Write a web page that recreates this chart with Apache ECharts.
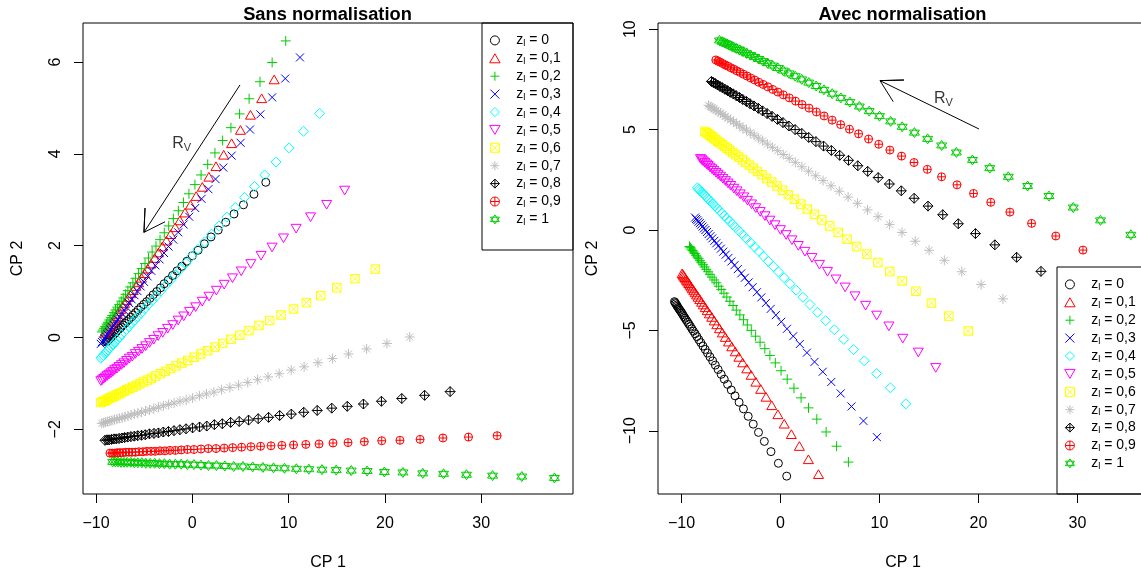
<!DOCTYPE html>
<html><head><meta charset="utf-8">
<script src="https://cdn.jsdelivr.net/npm/echarts@6/dist/echarts.min.js"></script>
<style>html,body{margin:0;padding:0;background:#fff}#c{width:1141px;height:576px}</style>
</head><body><div id="c"></div>
<script>
// ---------- categories ----------
const zLabels = ['0','0,1','0,2','0,3','0,4','0,5','0,6','0,7','0,8','0,9','1'];
const colors = ['#000000','#FF0000','#00CD00','#0000FF','#00FFFF','#FF00FF','#FFFF00','#BEBEBE','#000000','#FF0000','#00CD00'];

// ---------- tick labels ----------
const leftXTicks = [-10, 0, 10, 20, 30];
const leftYTicks = [-2, 0, 2, 4, 6];
const rightXTicks = [-10, 0, 10, 20, 30];
const rightYTicks = [-10, -5, 0, 5, 10];

// ---------- left panel (Sans normalisation) ----------
const L0x = [7.63,6.40,5.31,4.33,3.47,2.69,1.94,1.25,0.60,0.00,-0.56,-1.09,-1.59,-2.05,-2.50,-2.92,-3.31,-3.69,-4.06,-4.41,-4.74,-5.05,-5.35,-5.63,-5.90,-6.15,-6.38,-6.60,-6.81,-7.01,-7.37,-7.71,-8.00,-8.27,-8.52,-8.75,-8.95,-7.19,-7.54,-7.86,-8.14,-8.40,-8.64,-8.85];
const L0y = [3.38,3.12,2.89,2.69,2.51,2.34,2.19,2.04,1.90,1.78,1.66,1.55,1.45,1.35,1.25,1.17,1.08,1.00,0.93,0.85,0.78,0.72,0.66,0.60,0.54,0.49,0.44,0.39,0.35,0.31,0.23,0.16,0.10,0.04,-0.01,-0.06,-0.10,0.27,0.20,0.13,0.07,0.01,-0.03,-0.08];
const L1x = [8.50,7.20,6.04,5.00,4.08,3.26,2.46,1.72,1.04,0.40,-0.19,-0.76,-1.29,-1.78,-2.25,-2.69,-3.12,-3.52,-3.91,-4.28,-4.63,-4.96,-5.28,-5.58,-5.86,-6.13,-6.37,-6.60,-6.83,-7.04,-7.43,-7.78,-8.10,-8.38,-8.64,-8.89,-9.10,-7.23,-7.60,-7.94,-8.24,-8.52,-8.77,-8.99];
const L1y = [5.62,5.21,4.85,4.52,4.23,3.98,3.73,3.50,3.28,3.08,2.89,2.72,2.55,2.40,2.25,2.11,1.98,1.85,1.73,1.61,1.50,1.40,1.30,1.20,1.12,1.03,0.96,0.88,0.81,0.75,0.62,0.51,0.42,0.33,0.24,0.17,0.10,0.69,0.57,0.46,0.37,0.28,0.21,0.13];
const L2x = [9.70,8.29,7.03,5.90,4.91,4.01,3.15,2.35,1.60,0.91,0.27,-0.35,-0.92,-1.45,-1.97,-2.45,-2.91,-3.35,-3.77,-4.17,-4.55,-4.91,-5.26,-5.58,-5.89,-6.17,-6.44,-6.69,-6.94,-7.17,-7.59,-7.97,-8.31,-8.62,-8.90,-9.17,-9.40,-7.38,-7.78,-8.14,-8.46,-8.77,-9.04,-9.29];
const L2y = [6.46,5.99,5.57,5.20,4.87,4.57,4.29,4.02,3.77,3.54,3.33,3.13,2.94,2.76,2.59,2.43,2.28,2.13,1.99,1.86,1.73,1.61,1.50,1.39,1.29,1.19,1.10,1.02,0.94,0.86,0.72,0.60,0.48,0.38,0.29,0.20,0.12,0.79,0.66,0.54,0.43,0.33,0.24,0.16];
const L3x = [11.18,9.65,8.29,7.07,5.99,5.02,4.09,3.22,2.41,1.67,0.96,0.30,-0.32,-0.90,-1.46,-1.97,-2.47,-2.94,-3.40,-3.83,-4.25,-4.64,-5.01,-5.36,-5.70,-6.01,-6.30,-6.56,-6.83,-7.08,-7.54,-7.95,-8.32,-8.65,-8.96,-9.25,-9.50,-7.31,-7.74,-8.14,-8.49,-8.82,-9.11,-9.38];
const L3y = [6.10,5.64,5.23,4.86,4.53,4.24,3.96,3.70,3.45,3.23,3.02,2.82,2.63,2.46,2.29,2.13,1.98,1.84,1.70,1.57,1.45,1.33,1.21,1.11,1.01,0.92,0.83,0.75,0.66,0.59,0.45,0.33,0.22,0.12,0.02,-0.07,-0.14,0.52,0.39,0.27,0.17,0.07,-0.02,-0.10];
const L4x = [13.22,11.54,10.04,8.70,7.52,6.45,5.43,4.47,3.59,2.77,2.00,1.27,0.59,-0.05,-0.66,-1.23,-1.78,-2.30,-2.80,-3.28,-3.73,-4.16,-4.57,-4.96,-5.32,-5.66,-5.98,-6.27,-6.57,-6.84,-7.34,-7.80,-8.21,-8.57,-8.91,-9.23,-9.50,-7.09,-7.57,-8.00,-8.39,-8.75,-9.07,-9.36];
const L4y = [4.88,4.49,4.13,3.82,3.54,3.29,3.05,2.83,2.62,2.43,2.25,2.08,1.92,1.77,1.62,1.49,1.36,1.24,1.12,1.01,0.90,0.80,0.71,0.62,0.53,0.45,0.38,0.31,0.24,0.17,0.06,-0.05,-0.15,-0.23,-0.31,-0.39,-0.45,0.12,0.00,-0.10,-0.19,-0.27,-0.35,-0.42];
const L5x = [15.82,13.95,12.28,10.78,9.47,8.28,7.14,6.07,5.08,4.17,3.31,2.50,1.74,1.03,0.35,-0.28,-0.89,-1.47,-2.03,-2.56,-3.07,-3.55,-4.01,-4.44,-4.84,-5.22,-5.58,-5.91,-6.23,-6.54,-7.10,-7.60,-8.06,-8.46,-8.84,-9.20,-9.50,-6.82,-7.35,-7.83,-8.26,-8.66,-9.02,-9.35];
const L5y = [3.20,2.89,2.62,2.37,2.16,1.96,1.78,1.60,1.44,1.29,1.15,1.02,0.89,0.78,0.66,0.56,0.46,0.37,0.27,0.19,0.10,0.03,-0.05,-0.12,-0.19,-0.25,-0.31,-0.36,-0.42,-0.46,-0.56,-0.64,-0.71,-0.78,-0.84,-0.90,-0.95,-0.51,-0.60,-0.68,-0.75,-0.81,-0.87,-0.93];
const L6x = [19.00,16.89,15.01,13.33,11.85,10.51,9.22,8.03,6.92,5.89,4.92,4.01,3.15,2.36,1.59,0.87,0.19,-0.47,-1.09,-1.69,-2.26,-2.80,-3.32,-3.80,-4.26,-4.68,-5.08,-5.45,-5.82,-6.17,-6.79,-7.36,-7.88,-8.33,-8.76,-9.16,-9.50,-6.48,-7.08,-7.62,-8.10,-8.56,-8.96,-9.33];
const L6y = [1.49,1.28,1.08,0.91,0.76,0.62,0.49,0.37,0.26,0.15,0.05,-0.04,-0.13,-0.21,-0.29,-0.36,-0.43,-0.50,-0.56,-0.62,-0.68,-0.74,-0.79,-0.84,-0.89,-0.93,-0.97,-1.01,-1.05,-1.08,-1.14,-1.20,-1.25,-1.30,-1.34,-1.39,-1.42,-1.11,-1.17,-1.23,-1.28,-1.32,-1.37,-1.40];
const L7x = [22.58,20.21,18.10,16.22,14.55,13.05,11.61,10.27,9.02,7.87,6.78,5.76,4.80,3.90,3.04,2.24,1.47,0.74,0.03,-0.64,-1.28,-1.89,-2.46,-3.00,-3.52,-4.00,-4.44,-4.86,-5.28,-5.66,-6.36,-7.00,-7.58,-8.09,-8.57,-9.02,-9.40,-6.01,-6.68,-7.29,-7.83,-8.35,-8.79,-9.21];
const L7y = [0.01,-0.13,-0.25,-0.36,-0.46,-0.55,-0.64,-0.71,-0.79,-0.86,-0.92,-0.98,-1.04,-1.09,-1.14,-1.19,-1.23,-1.27,-1.32,-1.36,-1.39,-1.43,-1.46,-1.49,-1.52,-1.55,-1.58,-1.60,-1.63,-1.65,-1.69,-1.73,-1.76,-1.79,-1.82,-1.85,-1.87,-1.67,-1.71,-1.75,-1.78,-1.81,-1.83,-1.86];
const L8x = [26.77,24.12,21.75,19.64,17.77,16.09,14.48,12.97,11.57,10.28,9.07,7.92,6.84,5.84,4.87,3.98,3.12,2.29,1.50,0.75,0.03,-0.65,-1.29,-1.90,-2.48,-3.01,-3.52,-3.98,-4.45,-4.88,-5.67,-6.38,-7.03,-7.60,-8.14,-8.64,-9.07,-5.27,-6.02,-6.71,-7.31,-7.89,-8.39,-8.85];
const L8y = [-1.18,-1.26,-1.33,-1.39,-1.45,-1.50,-1.54,-1.59,-1.63,-1.67,-1.70,-1.74,-1.77,-1.80,-1.83,-1.85,-1.88,-1.90,-1.93,-1.95,-1.97,-1.99,-2.01,-2.03,-2.05,-2.06,-2.08,-2.09,-2.10,-2.12,-2.14,-2.16,-2.18,-2.20,-2.21,-2.23,-2.24,-2.13,-2.15,-2.17,-2.19,-2.21,-2.22,-2.23];
const L9x = [31.65,28.68,26.02,23.65,21.56,19.67,17.86,16.17,14.61,13.16,11.79,10.51,9.30,8.17,7.09,6.08,5.12,4.19,3.31,2.47,1.66,0.90,0.17,-0.51,-1.15,-1.76,-2.32,-2.84,-3.36,-3.85,-4.73,-5.54,-6.26,-6.90,-7.51,-8.07,-8.55,-4.29,-5.13,-5.90,-6.58,-7.22,-7.79,-8.31];
const L9y = [-2.14,-2.17,-2.19,-2.22,-2.24,-2.25,-2.27,-2.29,-2.30,-2.32,-2.33,-2.34,-2.35,-2.36,-2.37,-2.38,-2.39,-2.40,-2.41,-2.42,-2.42,-2.43,-2.44,-2.44,-2.45,-2.46,-2.46,-2.47,-2.47,-2.48,-2.48,-2.49,-2.50,-2.50,-2.51,-2.52,-2.52,-2.48,-2.49,-2.50,-2.50,-2.51,-2.51,-2.52];
const L10x = [37.60,34.21,31.18,28.47,26.09,23.93,21.87,19.94,18.15,16.50,14.94,13.47,12.10,10.81,9.57,8.43,7.33,6.27,5.26,4.30,3.38,2.51,1.68,0.90,0.17,-0.52,-1.16,-1.76,-2.35,-2.90,-3.91,-4.83,-5.66,-6.39,-7.08,-7.72,-8.27,-3.41,-4.37,-5.24,-6.02,-6.76,-7.40,-7.99];
const L10y = [-3.06,-3.03,-3.01,-2.99,-2.97,-2.96,-2.94,-2.93,-2.91,-2.90,-2.89,-2.88,-2.87,-2.86,-2.85,-2.84,-2.83,-2.82,-2.81,-2.81,-2.80,-2.79,-2.79,-2.78,-2.77,-2.77,-2.76,-2.76,-2.76,-2.75,-2.74,-2.74,-2.73,-2.72,-2.72,-2.71,-2.71,-2.75,-2.74,-2.73,-2.73,-2.72,-2.72,-2.71];

// ---------- right panel (Avec normalisation) ----------
const R0x = [0.63,-0.21,-0.96,-1.63,-2.22,-2.75,-3.26,-3.74,-4.18,-4.59,-4.97,-5.34,-5.68,-5.99,-6.30,-6.58,-6.85,-7.12,-7.37,-7.60,-7.83,-8.05,-8.25,-8.44,-8.62,-8.79,-8.95,-9.10,-9.25,-9.38,-9.63,-9.86,-10.06,-10.25,-10.42,-10.57,-10.71,-9.51,-9.75,-9.96,-10.15,-10.34,-10.49,-10.64];
const R0y = [-12.26,-11.62,-11.04,-10.53,-10.08,-9.67,-9.28,-8.91,-8.58,-8.26,-7.97,-7.69,-7.43,-7.19,-6.95,-6.73,-6.52,-6.32,-6.13,-5.95,-5.78,-5.61,-5.46,-5.31,-5.17,-5.04,-4.92,-4.80,-4.69,-4.59,-4.40,-4.22,-4.06,-3.93,-3.80,-3.67,-3.57,-4.49,-4.31,-4.14,-4.00,-3.86,-3.74,-3.62];
const R1x = [3.84,2.82,1.91,1.10,0.38,-0.26,-0.88,-1.46,-2.00,-2.49,-2.96,-3.40,-3.82,-4.20,-4.57,-4.92,-5.25,-5.57,-5.87,-6.16,-6.43,-6.69,-6.94,-7.18,-7.40,-7.60,-7.80,-7.97,-8.15,-8.32,-8.62,-8.90,-9.15,-9.37,-9.57,-9.77,-9.93,-8.47,-8.76,-9.02,-9.26,-9.48,-9.67,-9.85];
const R1y = [-12.16,-11.42,-10.76,-10.17,-9.65,-9.18,-8.73,-8.31,-7.92,-7.56,-7.22,-6.90,-6.60,-6.32,-6.05,-5.80,-5.56,-5.33,-5.11,-4.90,-4.70,-4.51,-4.33,-4.16,-4.00,-3.85,-3.71,-3.58,-3.45,-3.33,-3.11,-2.91,-2.73,-2.57,-2.42,-2.28,-2.16,-3.22,-3.01,-2.82,-2.65,-2.49,-2.35,-2.22];
const R2x = [6.86,5.67,4.61,3.67,2.83,2.08,1.36,0.68,0.06,-0.52,-1.07,-1.58,-2.06,-2.51,-2.95,-3.35,-3.73,-4.10,-4.46,-4.79,-5.11,-5.42,-5.71,-5.98,-6.24,-6.48,-6.70,-6.91,-7.12,-7.31,-7.67,-7.99,-8.28,-8.53,-8.77,-9.00,-9.19,-7.49,-7.83,-8.13,-8.40,-8.66,-8.89,-9.09];
const R2y = [-11.56,-10.77,-10.06,-9.42,-8.86,-8.36,-7.88,-7.43,-7.01,-6.62,-6.25,-5.91,-5.59,-5.29,-5.00,-4.73,-4.47,-4.23,-3.99,-3.76,-3.55,-3.34,-3.15,-2.97,-2.80,-2.63,-2.49,-2.35,-2.21,-2.08,-1.84,-1.63,-1.43,-1.26,-1.10,-0.95,-0.82,-1.96,-1.73,-1.53,-1.35,-1.17,-1.02,-0.88];
const R3x = [9.74,8.38,7.17,6.08,5.13,4.27,3.44,2.67,1.95,1.29,0.66,0.08,-0.47,-0.99,-1.48,-1.94,-2.38,-2.81,-3.21,-3.60,-3.96,-4.31,-4.64,-4.96,-5.25,-5.53,-5.78,-6.02,-6.26,-6.48,-6.89,-7.25,-7.58,-7.88,-8.15,-8.41,-8.63,-6.68,-7.07,-7.42,-7.73,-8.02,-8.28,-8.52];
const R3y = [-10.32,-9.51,-8.79,-8.14,-7.57,-7.06,-6.57,-6.11,-5.68,-5.29,-4.92,-4.57,-4.24,-3.93,-3.64,-3.36,-3.10,-2.85,-2.61,-2.38,-2.16,-1.95,-1.75,-1.57,-1.39,-1.23,-1.08,-0.93,-0.79,-0.66,-0.42,-0.20,0.00,0.17,0.34,0.49,0.62,-0.54,-0.31,-0.10,0.08,0.26,0.41,0.55];
const R4x = [12.66,11.10,9.71,8.47,7.38,6.39,5.44,4.56,3.74,2.98,2.27,1.59,0.96,0.37,-0.20,-0.72,-1.23,-1.71,-2.17,-2.62,-3.04,-3.44,-3.81,-4.17,-4.51,-4.82,-5.12,-5.39,-5.67,-5.92,-6.38,-6.80,-7.18,-7.52,-7.83,-8.13,-8.38,-6.15,-6.59,-6.99,-7.35,-7.69,-7.98,-8.25];
const R4y = [-8.66,-7.86,-7.15,-6.52,-5.96,-5.45,-4.97,-4.52,-4.10,-3.71,-3.35,-3.00,-2.68,-2.38,-2.09,-1.82,-1.56,-1.31,-1.07,-0.85,-0.63,-0.43,-0.24,-0.05,0.12,0.28,0.43,0.57,0.71,0.84,1.08,1.29,1.49,1.66,1.82,1.97,2.10,0.96,1.19,1.39,1.57,1.75,1.90,2.04];
const R5x = [15.68,13.92,12.35,10.95,9.72,8.60,7.53,6.53,5.61,4.75,3.94,3.18,2.47,1.80,1.16,0.57,0.00,-0.55,-1.07,-1.57,-2.05,-2.50,-2.92,-3.33,-3.71,-4.07,-4.40,-4.71,-5.02,-5.30,-5.82,-6.30,-6.73,-7.11,-7.46,-7.80,-8.08,-5.56,-6.06,-6.51,-6.92,-7.30,-7.63,-7.94];
const R5y = [-6.87,-6.10,-5.41,-4.80,-4.26,-3.77,-3.30,-2.86,-2.46,-2.08,-1.73,-1.39,-1.08,-0.79,-0.51,-0.25,0.00,0.24,0.47,0.69,0.90,1.09,1.28,1.46,1.63,1.78,1.93,2.06,2.20,2.32,2.55,2.76,2.95,3.11,3.27,3.42,3.54,2.44,2.66,2.85,3.03,3.20,3.34,3.48];
const R6x = [18.97,17.00,15.25,13.68,12.29,11.04,9.84,8.73,7.69,6.73,5.83,4.97,4.18,3.43,2.71,2.05,1.41,0.80,0.21,-0.35,-0.88,-1.39,-1.87,-2.32,-2.74,-3.14,-3.52,-3.86,-4.21,-4.53,-5.11,-5.64,-6.12,-6.55,-6.95,-7.32,-7.64,-4.82,-5.38,-5.88,-6.34,-6.76,-7.13,-7.48];
const R6y = [-5.03,-4.29,-3.64,-3.05,-2.54,-2.07,-1.62,-1.20,-0.82,-0.46,-0.12,0.20,0.50,0.78,1.04,1.29,1.53,1.76,1.98,2.19,2.39,2.57,2.75,2.92,3.08,3.23,3.37,3.50,3.63,3.75,3.97,4.17,4.34,4.50,4.65,4.79,4.91,3.86,4.07,4.25,4.42,4.58,4.72,4.85];
const R7x = [22.47,20.27,18.31,16.55,15.01,13.61,12.27,11.02,9.86,8.79,7.78,6.83,5.94,5.10,4.30,3.56,2.84,2.16,1.50,0.88,0.28,-0.28,-0.82,-1.32,-1.80,-2.24,-2.66,-3.05,-3.43,-3.79,-4.45,-5.04,-5.58,-6.05,-6.50,-6.91,-7.27,-4.12,-4.74,-5.31,-5.81,-6.29,-6.71,-7.09];
const R7y = [-3.43,-2.72,-2.08,-1.51,-1.01,-0.56,-0.12,0.28,0.66,1.00,1.33,1.64,1.93,2.20,2.46,2.70,2.93,3.15,3.37,3.57,3.76,3.95,4.12,4.28,4.44,4.58,4.72,4.84,4.97,5.08,5.29,5.49,5.66,5.82,5.96,6.09,6.21,5.19,5.39,5.57,5.74,5.89,6.03,6.15];
const R8x = [26.31,23.85,21.65,19.69,17.96,16.39,14.90,13.50,12.20,11.00,9.87,8.81,7.81,6.87,5.98,5.14,4.35,3.58,2.85,2.15,1.48,0.85,0.25,-0.31,-0.85,-1.35,-1.81,-2.24,-2.68,-3.08,-3.81,-4.47,-5.07,-5.61,-6.11,-6.57,-6.97,-3.44,-4.14,-4.77,-5.34,-5.87,-6.34,-6.77];
const R8y = [-2.06,-1.36,-0.74,-0.18,0.31,0.76,1.19,1.58,1.95,2.29,2.61,2.92,3.20,3.47,3.72,3.96,4.18,4.40,4.61,4.81,5.00,5.18,5.35,5.51,5.66,5.80,5.93,6.06,6.18,6.29,6.50,6.69,6.86,7.01,7.15,7.29,7.40,6.40,6.60,6.78,6.94,7.09,7.22,7.34];
const R9x = [30.55,27.81,25.36,23.17,21.24,19.50,17.83,16.27,14.83,13.49,12.23,11.05,9.93,8.90,7.89,6.97,6.08,5.22,4.41,3.63,2.89,2.18,1.52,0.89,0.29,-0.26,-0.78,-1.27,-1.75,-2.19,-3.01,-3.75,-4.42,-5.01,-5.57,-6.09,-6.53,-2.60,-3.38,-4.08,-4.71,-5.31,-5.83,-6.31];
const R9y = [-1.00,-0.30,0.33,0.89,1.38,1.82,2.25,2.65,3.02,3.36,3.68,3.98,4.27,4.53,4.79,5.02,5.25,5.47,5.68,5.88,6.07,6.25,6.42,6.58,6.73,6.87,7.00,7.13,7.25,7.36,7.57,7.76,7.93,8.08,8.22,8.36,8.47,7.47,7.67,7.85,8.01,8.16,8.29,8.41];
const R10x = [35.39,32.32,29.57,27.12,24.96,23.01,21.14,19.39,17.77,16.28,14.86,13.53,12.29,11.13,10.00,8.96,7.97,7.01,6.10,5.23,4.39,3.60,2.86,2.15,1.49,0.86,0.28,-0.26,-0.80,-1.30,-2.21,-3.04,-3.79,-4.46,-5.08,-5.66,-6.16,-1.76,-2.63,-3.42,-4.12,-4.79,-5.37,-5.91];
const R10y = [-0.24,0.48,1.12,1.69,2.19,2.65,3.08,3.49,3.86,4.21,4.54,4.85,5.14,5.41,5.67,5.92,6.15,6.37,6.58,6.79,6.98,7.17,7.34,7.50,7.66,7.80,7.94,8.07,8.19,8.31,8.52,8.71,8.89,9.04,9.19,9.32,9.44,8.41,8.62,8.80,8.97,9.12,9.26,9.38];

// ---------- annotations (R_V arrows, data units) ----------
const arrowLeft = [[4.95,5.50],[-5.02,2.29],[-4.91,2.82],[-5.02,2.29],[-2.83,2.52]];
const arrowRight = [[20.05,5.03],[10.05,7.44],[12.47,7.47],[10.05,7.44],[11.39,6.39]];
const rvLeft = [-1.10, 4.22];
const rvRight = [16.46, 6.55];

const leftSets = [[L0x,L0y],[L1x,L1y],[L2x,L2y],[L3x,L3y],[L4x,L4y],[L5x,L5y],[L6x,L6y],[L7x,L7y],[L8x,L8y],[L9x,L9y],[L10x,L10y]];
const rightSets = [[R0x,R0y],[R1x,R1y],[R2x,R2y],[R3x,R3y],[R4x,R4y],[R5x,R5y],[R6x,R6y],[R7x,R7y],[R8x,R8y],[R9x,R9y],[R10x,R10y]];

// R pch 1..11 glyphs
const symbols = [
  'circle',
  'path://M5,0 L10,8.66 L0,8.66 Z',
  'path://M5,0 L5,10 M0,5 L10,5',
  'path://M0,0 L10,10 M10,0 L0,10',
  'path://M5,0 L10,5 L5,10 L0,5 Z',
  'path://M0,0 L10,0 L5,8.66 Z',
  'path://M0,0 L10,0 L10,10 L0,10 Z M0,0 L10,10 M10,0 L0,10',
  'path://M5,0 L5,10 M0,5 L10,5 M1.5,1.5 L8.5,8.5 M8.5,1.5 L1.5,8.5',
  'path://M5,0 L10,5 L5,10 L0,5 Z M5,0 L5,10 M0,5 L10,5',
  'path://M0,5 A5,5 0 1 1 10,5 A5,5 0 1 1 0,5 Z M5,0 L5,10 M0,5 L10,5',
  'path://M5,0 L10,7.5 L0,7.5 Z M5,10 L10,2.5 L0,2.5 Z'
];
const symSizes = [8,10,10,8,10,10,8.5,10,10,8,10];

const FONT = 'Liberation Sans';
const fmt = v => String(v).replace('-', '\u2212');
const pairs = (xs, ys) => xs.map((x, i) => [x, ys[i]]);

function xAx(gi, min, max, ticks) {
  return { type:'value', gridIndex:gi, min, max, scale:true,
    splitLine:{show:false}, axisLine:{show:false, onZero:false},
    axisTick:{show:true, inside:false, length:9, lineStyle:{color:'#000', width:1}, customValues:ticks},
    axisLabel:{customValues:ticks, margin:22, fontSize:16, color:'#000', fontFamily:FONT, formatter:fmt},
    name:'CP 1', nameLocation:'middle', nameGap:61,
    nameTextStyle:{fontSize:16, color:'#000', fontFamily:FONT} };
}
function yAx(gi, min, max, ticks) {
  return { type:'value', gridIndex:gi, min, max, scale:true,
    splitLine:{show:false}, axisLine:{show:false, onZero:false},
    axisTick:{show:true, inside:false, length:9, lineStyle:{color:'#000', width:1}, customValues:ticks},
    axisLabel:{customValues:ticks, margin:19, rotate:90, fontSize:16, color:'#000', fontFamily:FONT, formatter:fmt},
    name:'CP 2', nameLocation:'middle', nameGap:57,
    nameTextStyle:{fontSize:16, color:'#000', fontFamily:FONT} };
}
function legendAt(left, top) {
  return { data: zLabels, orient:'vertical', left, top, padding:[10.4,0,11.3,7.2],
    itemWidth:15, itemHeight:9, itemGap:2.9, selectedMode:false, borderWidth:0,
    itemStyle:{borderWidth:1},
    formatter: n => '{g| }{a|z}{s|l}{a| = ' + n + '}',
    textStyle:{ color:'#000', fontFamily:FONT, fontSize:14,
      rich:{ g:{width:8.8, fontSize:14, lineHeight:16},
             a:{fontSize:14, lineHeight:16, color:'#000', fontFamily:FONT},
             s:{fontSize:9.5, lineHeight:10, verticalAlign:'bottom', color:'#000', fontFamily:FONT} } } };
}

const series = [];
function addPanel(sets, gi) {
  sets.forEach((s, i) => {
    series.push({ type:'scatter', name: zLabels[i], xAxisIndex:gi, yAxisIndex:gi,
      data: pairs(s[0], s[1]), symbol: symbols[i], symbolSize: symSizes[i], symbolKeepAspect:true,
      itemStyle:{color:'rgba(0,0,0,0)', borderColor:colors[i], borderWidth:1, opacity:1},
      emphasis:{disabled:true}, silent:true, animation:false });
  });
}
addPanel(leftSets, 0);
addPanel(rightSets, 1);
[[arrowLeft,0],[arrowRight,1]].forEach(([a, gi]) => series.push({
  type:'line', xAxisIndex:gi, yAxisIndex:gi, data:a, symbol:'none', silent:true, animation:false,
  lineStyle:{color:'#000', width:1}, z:5 }));
[[rvLeft,0],[rvRight,1]].forEach(([p, gi]) => series.push({
  type:'scatter', xAxisIndex:gi, yAxisIndex:gi, data:[p], symbolSize:0, silent:true, animation:false,
  itemStyle:{color:'rgba(0,0,0,0)'},
  label:{show:true, position:'inside', formatter:'{r|R}{v|V}',
    rich:{ r:{fontSize:16, lineHeight:20, color:'#000', fontFamily:FONT},
           v:{fontSize:11, lineHeight:12, verticalAlign:'bottom', color:'#000', fontFamily:FONT} } } }));

const chart = echarts.init(document.getElementById('c'), null, {renderer:'canvas'});
chart.setOption({
  animation:false,
  backgroundColor:'#fff',
  textStyle:{fontFamily:FONT},
  title:[
    {text:'Sans normalisation', left:322.5, top:1, textAlign:'center', textStyle:{fontSize:18.3, fontWeight:'bold', color:'#000', fontFamily:FONT}},
    {text:'Avec normalisation', left:897.5, top:1, textAlign:'center', textStyle:{fontSize:18.3, fontWeight:'bold', color:'#000', fontFamily:FONT}}
  ],
  grid:[
    {left:83, top:23, width:490, height:471, show:true, borderColor:'#000', borderWidth:1, backgroundColor:'rgba(0,0,0,0)', containLabel:false, outerBoundsMode:'none'},
    {left:658, top:23, width:490, height:471, show:true, borderColor:'#000', borderWidth:1, backgroundColor:'rgba(0,0,0,0)', containLabel:false, outerBoundsMode:'none'}
  ],
  xAxis:[ xAx(0, -11.35, 39.53, leftXTicks), xAx(1, -12.37, 37.12, rightXTicks) ],
  yAxis:[ yAx(0, -3.41, 6.85, leftYTicks), yAx(1, -13.15, 10.31, rightYTicks) ],
  legend:[ legendAt(482, 23), legendAt(1057, 267) ],
  graphic:[
    {type:'rect', shape:{x:482, y:23, width:91, height:227}, style:{fill:'none', stroke:'#000', lineWidth:1}, silent:true},
    {type:'rect', shape:{x:1057, y:267, width:91, height:227}, style:{fill:'none', stroke:'#000', lineWidth:1}, silent:true}
  ],
  series
});
</script></body></html>
